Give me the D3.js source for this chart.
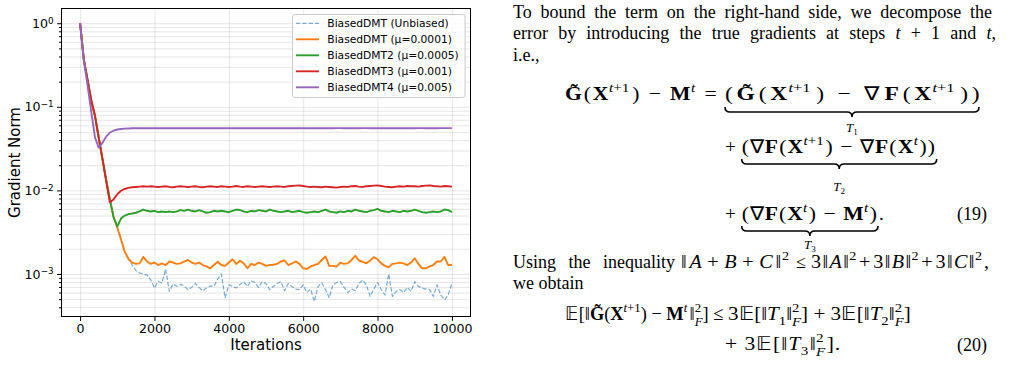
<!DOCTYPE html>
<html>
<head>
<meta charset="utf-8">
<script src="https://cdn.jsdelivr.net/npm/d3@7"></script>
<style>
  body { margin: 0; background: #fff; }
  svg { display: block; }
  .tx text { font-family: "Liberation Serif", serif; fill: #000; white-space: pre; }
  .chart text { font-family: "DejaVu Sans", sans-serif; fill: #000; }
</style>
</head>
<body>
<svg id="page" width="1023" height="384"></svg>
<script>
// ---- data ----
var iterations = [
  0, 100, 200, 300, 400, 500, 600, 700, 800, 900,
  1000, 1100, 1200, 1300, 1400, 1500, 1600, 1700, 1800, 1900,
  2000, 2100, 2200, 2300, 2400, 2500, 2600, 2700, 2800, 2900,
  3000, 3100, 3200, 3300, 3400, 3500, 3600, 3700, 3800, 3900,
  4000, 4100, 4200, 4300, 4400, 4500, 4600, 4700, 4800, 4900,
  5000, 5100, 5200, 5300, 5400, 5500, 5600, 5700, 5800, 5900,
  6000, 6100, 6200, 6300, 6400, 6500, 6600, 6700, 6800, 6900,
  7000, 7100, 7200, 7300, 7400, 7500, 7600, 7700, 7800, 7900,
  8000, 8100, 8200, 8300, 8400, 8500, 8600, 8700, 8800, 8900,
  9000, 9100, 9200, 9300, 9400, 9500, 9600, 9700, 9800, 9900,
  10000];

var unbiased = [
  1.0, 0.37, 0.21, 0.12, 0.078, 0.043, 0.024, 0.0135, 0.0078, 0.0048,
  0.0036, 0.0026, 0.00185, 0.0015, 0.00128, 0.00110, 0.00103, 0.00100, 0.00097, 0.00085,
  0.00068, 0.00082, 0.00078, 0.00114, 0.00062, 0.00076, 0.00071, 0.00075, 0.00072, 0.00065,
  0.00069, 0.00077, 0.00069, 0.00063, 0.00068, 0.00072, 0.00071, 0.00087, 0.00100, 0.00052,
  0.00074, 0.00071, 0.00068, 0.00075, 0.00081, 0.00071, 0.00083, 0.00079, 0.00069, 0.00081,
  0.00077, 0.00065, 0.00071, 0.00077, 0.00081, 0.00063, 0.00077, 0.00071, 0.00066, 0.00065,
  0.00074, 0.00060, 0.00066, 0.00047, 0.00071, 0.00078, 0.00065, 0.00052, 0.00074, 0.00079,
  0.00081, 0.00069, 0.00060, 0.00066, 0.00063, 0.00077, 0.00085, 0.00074, 0.00054, 0.00066,
  0.00079, 0.00065, 0.00056, 0.00100, 0.00054, 0.00062, 0.00065, 0.00060, 0.00069, 0.00062,
  0.00081, 0.00071, 0.00068, 0.00066, 0.00065, 0.00054, 0.00074, 0.00056, 0.00049, 0.00056,
  0.00077];

var mu0001 = [
  1.0, 0.37, 0.21, 0.12, 0.078, 0.043, 0.024, 0.0135, 0.0078, 0.0048,
  0.0036, 0.0026, 0.00185, 0.00152, 0.00137, 0.00132, 0.00134, 0.00160, 0.00141, 0.00132,
  0.00137, 0.00128, 0.00134, 0.00128, 0.00141, 0.00137, 0.00132, 0.00134, 0.00141, 0.00147,
  0.00137, 0.00132, 0.00137, 0.00128, 0.00123, 0.00117, 0.00128, 0.00140, 0.00128, 0.00125,
  0.00137, 0.00150, 0.00132, 0.00144, 0.00134, 0.00117, 0.00132, 0.00128, 0.00137, 0.00132,
  0.00125, 0.00128, 0.00129, 0.00132, 0.00141, 0.00145, 0.00128, 0.00134, 0.00141, 0.00132,
  0.00117, 0.00115, 0.00123, 0.00128, 0.00132, 0.00147, 0.00162, 0.00125, 0.00125, 0.00123,
  0.00137, 0.00132, 0.00134, 0.00147, 0.00165, 0.00145, 0.00140, 0.00134, 0.00145, 0.00159,
  0.00150, 0.00134, 0.00125, 0.00120, 0.00132, 0.00134, 0.00137, 0.00134, 0.00128, 0.00137,
  0.00154, 0.00132, 0.00117, 0.00117, 0.00123, 0.00128, 0.00141, 0.00141, 0.00160, 0.00128,
  0.00128];

var mu0005 = [
  1.0, 0.37, 0.21, 0.12, 0.078, 0.043, 0.024, 0.0135, 0.0078, 0.0048,
  0.0037, 0.0046, 0.0050, 0.0052, 0.0053, 0.0054, 0.0056, 0.0059, 0.0057, 0.0056,
  0.0057, 0.0055, 0.0056, 0.0055, 0.0056, 0.0055, 0.0056, 0.0058, 0.0057, 0.0059,
  0.0057, 0.0056, 0.0058, 0.0056, 0.0054, 0.0055, 0.0057, 0.0056, 0.0057, 0.0056,
  0.0055, 0.0057, 0.0059, 0.0058, 0.0056, 0.0055, 0.0057, 0.0056, 0.0058, 0.0057,
  0.0056, 0.0059, 0.0057, 0.0056, 0.0055, 0.0056, 0.0057, 0.0055, 0.0056, 0.0057,
  0.0055, 0.0054, 0.0055, 0.0056, 0.0055, 0.0057, 0.0059, 0.0056, 0.0055, 0.0054,
  0.0056, 0.0055, 0.0057, 0.0056, 0.0059, 0.0057, 0.0056, 0.0055, 0.0057, 0.0058,
  0.0060, 0.0057, 0.0056, 0.0055, 0.0057, 0.0056, 0.0055, 0.0057, 0.0056, 0.0057,
  0.0059, 0.0057, 0.0055, 0.0054, 0.0055, 0.0056, 0.0055, 0.0056, 0.0059, 0.0058,
  0.0055];

var mu001 = [
  1.0, 0.37, 0.21, 0.12, 0.078, 0.043, 0.024, 0.013, 0.0072, 0.0078,
  0.0090, 0.0099, 0.0104, 0.0107, 0.0109, 0.0110, 0.0111, 0.0112, 0.0111, 0.0112,
  0.0111, 0.0110, 0.0111, 0.0112, 0.0110, 0.0109, 0.0111, 0.0112, 0.0111, 0.0110,
  0.0111, 0.0112, 0.0110, 0.0109, 0.0111, 0.0112, 0.0111, 0.0110, 0.0112, 0.0111,
  0.0110, 0.0111, 0.0113, 0.0111, 0.0110, 0.0112, 0.0111, 0.0110, 0.0111, 0.0112,
  0.0111, 0.0110, 0.0111, 0.0112, 0.0111, 0.0110, 0.0112, 0.0113, 0.0114, 0.0115,
  0.0113, 0.0111, 0.0110, 0.0111, 0.0110, 0.0109, 0.0111, 0.0110, 0.0109, 0.0108,
  0.0110, 0.0111, 0.0110, 0.0112, 0.0113, 0.0111, 0.0110, 0.0112, 0.0113, 0.0114,
  0.0115, 0.0113, 0.0111, 0.0110, 0.0109, 0.0111, 0.0112, 0.0111, 0.0113, 0.0112,
  0.0112, 0.0111, 0.0113, 0.0114, 0.0115, 0.0113, 0.0112, 0.0111, 0.0113, 0.0112,
  0.0111];

var mu005 = [
  1.0, 0.36, 0.18, 0.088, 0.043, 0.0325, 0.037, 0.044, 0.049, 0.052,
  0.0535, 0.0543, 0.0548, 0.0551, 0.0553, 0.0554, 0.0555, 0.0555, 0.0555, 0.0556,
  0.0555, 0.0555, 0.0556, 0.0555, 0.0555, 0.0556, 0.0555, 0.0555, 0.0554, 0.0555,
  0.0555, 0.0556, 0.0555, 0.0555, 0.0554, 0.0555, 0.0555, 0.0556, 0.0555, 0.0555,
  0.0555, 0.0554, 0.0555, 0.0555, 0.0556, 0.0555, 0.0555, 0.0555, 0.0554, 0.0555,
  0.0555, 0.0556, 0.0555, 0.0555, 0.0555, 0.0554, 0.0555, 0.0556, 0.0555, 0.0555,
  0.0555, 0.0555, 0.0554, 0.0555, 0.0556, 0.0555, 0.0555, 0.0555, 0.0555, 0.0556,
  0.0556, 0.0555, 0.0555, 0.0555, 0.0554, 0.0555, 0.0556, 0.0556, 0.0555, 0.0555,
  0.0556, 0.0555, 0.0555, 0.0556, 0.0555, 0.0555, 0.0554, 0.0555, 0.0556, 0.0555,
  0.0555, 0.0556, 0.0556, 0.0555, 0.0555, 0.0556, 0.0555, 0.0556, 0.0556, 0.0556,
  0.0556];

var seriesNames = ["BiasedDMT (Unbiased)", "BiasedDMT (\u03bc=0.0001)", "BiasedDMT2 (\u03bc=0.0005)",
                   "BiasedDMT3 (\u03bc=0.001)", "BiasedDMT4 (\u03bc=0.005)"];
var seriesValues = [unbiased, mu0001, mu0005, mu001, mu005];
var seriesColors = ["#1f77b4", "#ff7f0e", "#2ca02c", "#d62728", "#9467bd"];

var xTicks = [0, 2000, 4000, 6000, 8000, 10000];
var yTickExps = [0, -1, -2, -3];

// ---- chart ----
var svg = d3.select("#page");
svg.append("rect").attr("width", 1023).attr("height", 384).attr("fill", "#fff");

var pL = 61.5, pR = 470.5, pT = 8.5, pB = 316.5;
var x = d3.scaleLinear().domain([-500, 10500]).range([pL, pR]);
var y = d3.scaleLog().domain([3.1e-4, 1.5]).range([pB, pT]);

var chart = svg.append("g").attr("class", "chart");

var yMajor = yTickExps.map(function (e) { return Math.pow(10, e); });
var yMinor = [];
[-4, -3, -2, -1, 0].forEach(function (e) {
    for (var k = 2; k <= 9; k++) {
        var v = k * Math.pow(10, e);
        if (v > 3.1e-4 && v < 1.5) yMinor.push(v);
    }
});

// grid
var gx = chart.append("g")
    .attr("transform", "translate(0," + pB + ")")
    .call(d3.axisBottom(x).tickValues(xTicks).tickSize(-(pB - pT)).tickFormat(""));
var gy = chart.append("g")
    .attr("transform", "translate(" + pL + ",0)")
    .call(d3.axisLeft(y).tickValues(yMajor.concat(yMinor)).tickSize(-(pR - pL)).tickFormat(""));
[gx, gy].forEach(function (g) {
    g.select(".domain").remove();
    g.selectAll("line").attr("stroke", "#b0b0b0").attr("stroke-opacity", 0.32).attr("stroke-width", 1);
});

chart.append("defs").append("clipPath").attr("id", "clip")
    .append("rect").attr("x", pL).attr("y", pT)
    .attr("width", pR - pL).attr("height", pB - pT);

var line = d3.line()
    .x(function (d, i) { return x(iterations[i]); })
    .y(function (d) { return y(d); });

var lines = chart.append("g").attr("clip-path", "url(#clip)");
seriesValues.forEach(function (vals, i) {
    var p = lines.append("path").datum(vals)
        .attr("d", line)
        .attr("fill", "none")
        .attr("stroke", seriesColors[i])
        .attr("stroke-linejoin", "round");
    if (i === 0) {
        p.attr("stroke-width", 1.2).attr("stroke-opacity", 0.6).attr("stroke-dasharray", "4.4,1.9");
    } else {
        p.attr("stroke-width", 1.9);
    }
});

// frame
chart.append("rect")
    .attr("x", pL).attr("y", pT)
    .attr("width", pR - pL).attr("height", pB - pT)
    .attr("fill", "none").attr("stroke", "#000").attr("stroke-width", 1);

// axes
var ax = chart.append("g")
    .attr("transform", "translate(0," + pB + ")")
    .call(d3.axisBottom(x).tickValues(xTicks).tickSize(4.4).tickPadding(3.5).tickFormat(d3.format("d")));
ax.select(".domain").remove();

var ayMinor = chart.append("g")
    .attr("transform", "translate(" + pL + ",0)")
    .call(d3.axisLeft(y).tickValues(yMinor).tickSize(2.5).tickFormat(""));
ayMinor.select(".domain").remove();

var ay = chart.append("g")
    .attr("transform", "translate(" + pL + ",0)")
    .call(d3.axisLeft(y).tickValues(yMajor).tickSize(4.4).tickPadding(3.5));
ay.select(".domain").remove();
ay.selectAll("text")
    .text(null)
    .each(function (d) {
        var t = d3.select(this);
        t.append("tspan").text("10");
        var e = Math.round(Math.log10(d));
        t.append("tspan").attr("dy", -4.2).attr("class", "sup")
            .text(e < 0 ? "\u2212" + (-e) : String(e));
    });
[ax, ay, ayMinor].forEach(function (g) {
    g.selectAll(".tick line").attr("stroke", "#000").attr("stroke-width", 1);
    g.selectAll("text").attr("font-size", 12.6).attr("font-family", "DejaVu Sans");
});
ay.selectAll("tspan.sup").attr("font-size", 8.8);

chart.append("text").attr("x", (pL + pR) / 2).attr("y", 349.5)
    .attr("text-anchor", "middle").attr("font-size", 15).text("Iterations");
chart.append("text").attr("transform", "translate(19.5," + ((pT + pB) / 2) + ") rotate(-90)")
    .attr("text-anchor", "middle").attr("font-size", 15).text("Gradient Norm");

// legend
var lg = chart.append("g");
lg.append("rect").attr("x", 292.5).attr("y", 14.5).attr("width", 172.5).attr("height", 83)
    .attr("rx", 2.5).attr("fill", "#fff").attr("fill-opacity", 0.8)
    .attr("stroke", "#cccccc").attr("stroke-width", 1);
seriesNames.forEach(function (name, i) {
    var ry = 23.3 + i * 16;
    var l = lg.append("line").attr("x1", 296).attr("x2", 319).attr("y1", ry).attr("y2", ry)
        .attr("stroke", seriesColors[i]);
    if (i === 0) l.attr("stroke-width", 1.2).attr("stroke-opacity", 0.6).attr("stroke-dasharray", "4.4,1.9");
    else l.attr("stroke-width", 1.9);
    lg.append("text").attr("x", 327.3).attr("y", ry + 3.9).attr("font-size", 10.7).text(name);
});

// ---- text column on the right ----
var FS = 18;     // body text
var MS = 19.3;   // displayed math
var page = svg.append("g").attr("class", "tx");
var OPS = ["+", "\u2212", "=", "\u2264"];

// level: 1 superscript, -1 subscript, -2 subscript stacked under a superscript
function addText(x0, y0, parts, anchor, size) {
    size = size || FS;
    var t = page.append("text").attr("x", x0).attr("y", y0).attr("font-size", size);
    if (anchor) t.attr("text-anchor", anchor);
    var cur = 0, prevLv = 0, prevOp = false;
    parts.forEach(function (p) {
        var s = p[0], st = p[1] || "r", lv = p[2] || 0, dx = p[3] || 0;
        var fz = lv === 0 ? size : size * 0.7;
        var off = lv === 1 ? -size * 0.42 : (lv === -1 ? size * 0.22 : (lv === -2 ? size * 0.3 : 0));
        var ts = t.append("tspan").attr("dy", (off - cur).toFixed(2)).attr("font-size", fz).text(s);
        if (dx) ts.attr("dx", dx);
        if (st === "i") ts.attr("font-style", "italic");
        if (st === "b") ts.attr("font-weight", "bold");
        var isOp = OPS.indexOf(s.trim()) >= 0;
        var w;
        if (lv !== 0) w = (lv === prevLv) ? 0 : 0.3;
        else if (isOp || prevOp) w = 2;
        else if (prevLv !== 0) w = 1.5;
        else w = 1;
        ts.attr("data-w", w);
        cur = off; prevLv = lv; prevOp = isOp && lv === 0;
    });
    return t;
}

function justify(t, x0, x1) {
    var w = t.node().getComputedTextLength();
    var n = (t.text().match(/ /g) || []).length;
    t.attr("word-spacing", ((x1 - x0 - w) / n).toFixed(2));
}

// widen a math group (glyph scale + extra gaps) so it spans the width
function fit(t, width, maxScale) {
    maxScale = maxScale || 1.12;
    var x0 = +t.attr("x");
    var w = t.node().getBBox().width;
    var s = Math.min(maxScale, width / w);
    var extra = width / s - w;
    var free = t.selectAll("tspan").nodes().filter(function (n, i) {
        return i > 0 && !n.getAttribute("dx") && +n.getAttribute("data-w") > 0;
    });
    var tot = d3.sum(free, function (n) { return +n.getAttribute("data-w"); });
    if (extra > 0.3 && tot > 0) {
        free.forEach(function (n) {
            n.setAttribute("dx", (extra * n.getAttribute("data-w") / tot).toFixed(2));
        });
    }
    t.attr("transform", "translate(" + x0 + ",0) scale(" + s.toFixed(4) + ",1) translate(" + (-x0) + ",0)");
    return t;
}

function brace(x0, x1, yTop) {
    var r = 5, xm = (x0 + x1) / 2;
    var p = d3.path();
    p.moveTo(x0, yTop);
    p.quadraticCurveTo(x0, yTop + r, x0 + r, yTop + r);
    p.lineTo(xm - r, yTop + r);
    p.quadraticCurveTo(xm, yTop + r, xm, yTop + 2 * r);
    p.quadraticCurveTo(xm, yTop + r, xm + r, yTop + r);
    p.lineTo(x1 - r, yTop + r);
    p.quadraticCurveTo(x1, yTop + r, x1, yTop);
    page.append("path").attr("d", p.toString()).attr("fill", "none")
        .attr("stroke", "#000").attr("stroke-width", 1.6);
    return xm;
}

function label(xm, yb, idx) {
    addText(xm, yb, [["T", "i"], [idx, "r", -1]], "middle", 13);
}

var G = "G\u0303";
var EE = "\ud835\udd3c";
var supT1 = [["t", "i", 1], ["+", "r", 1], ["1", "r", 1]];
var subF = -MS * 0.7 * 0.5;
var norm2F = [["\u2016"], ["2", "r", 1], ["F", "i", -2, subF]];

justify(addText(513, 17.5, [["To bound the term on the right-hand side, we decompose the"]]), 513, 992);
justify(addText(513, 39, [["error by introducing the true gradients at steps "], ["t", "i"], [" + 1 and "], ["t", "i"], [","]]), 513, 996);
addText(513, 60.5, [["i.e.,"]]);

// equation (19)
fit(addText(565, 100, [[G, "b"], ["("], ["X", "b"]].concat(supT1).concat([[")"], [" \u2212 "], ["M", "b"], ["t", "i", 1], [" = "]]), null, MS), 157);
fit(addText(725, 100, [["("], [G, "b"], ["("], ["X", "b"]].concat(supT1).concat([[")"], [" \u2212 "], ["\u2207"], ["F", "b"], ["("], ["X", "b"]]).concat(supT1).concat([[")"], [")"]]), null, MS), 254, 1.22);
label(brace(725, 979, 107), 132, "1");

addText(725, 153, [["+"]], null, MS);
fit(addText(741.7, 153, [["("], ["\u2207"], ["F", "b"], ["("], ["X", "b"]].concat(supT1).concat([[")"], [" \u2212 "], ["\u2207"], ["F", "b"], ["("], ["X", "b"], ["t", "i", 1], [")"], [")"]]), null, MS), 195);
label(brace(741.7, 936.7, 159), 191, "2");

addText(725, 220, [["+"]], null, MS);
fit(addText(741.7, 220, [["("], ["\u2207"], ["F", "b"], ["("], ["X", "b"], ["t", "i", 1], [")"], [" \u2212 "], ["M", "b"], ["t", "i", 1], [")"]], null, MS), 136);
addText(879, 220, [["."]], null, MS);
label(brace(741.7, 878, 226), 249, "3");
addText(987, 220, [["(19)"]], "end");

// inequality sentence
justify(addText(513, 268, [["Using the inequality"]]), 513, 675);
fit(addText(681, 268, [["\u2016"], ["A", "i"], ["+"], ["B", "i"], ["+"], ["C", "i"], ["\u2016"], ["2", "r", 1]]), 108);
addText(796, 268, [["\u2264"]]);
fit(addText(811, 268, [["3"], ["\u2016"], ["A", "i"], ["\u2016"], ["2", "r", 1], ["+"], ["3"], ["\u2016"], ["B", "i"], ["\u2016"], ["2", "r", 1],
    ["+"], ["3"], ["\u2016"], ["C", "i"], ["\u2016"], ["2", "r", 1], [","]]), 178);
addText(513, 289, [["we obtain"]]);

// equation (20)
fit(addText(565, 320.5, [[EE], ["["], ["\u2016"], [G, "b"], ["("], ["X", "b"]].concat(supT1).concat([[")"], [" \u2212 "], ["M", "b"], ["t", "i", 1],
    ["\u2016", "r", 0, 2.5], ["2", "r", 1], ["F", "i", -2, subF], ["]"], [" \u2264"]]), null, MS), 158);
fit(addText(728, 320.5, [["3"], [EE], ["["], ["\u2016"], ["T", "i"], ["1", "r", -1]].concat(norm2F).concat([["]"], [" + "], ["3"], [EE], ["["], ["\u2016"],
    ["T", "i"], ["2", "r", -1]]).concat(norm2F).concat([["]"]]), null, MS), 182);
fit(addText(725, 350.5, [["+ "], ["3"], [EE], ["["], ["\u2016"], ["T", "i"], ["3", "r", -1]].concat(norm2F).concat([["]"], ["."]]), null, MS), 115);
addText(987, 350.5, [["(20)"]], "end");
</script>
</body>
</html>
